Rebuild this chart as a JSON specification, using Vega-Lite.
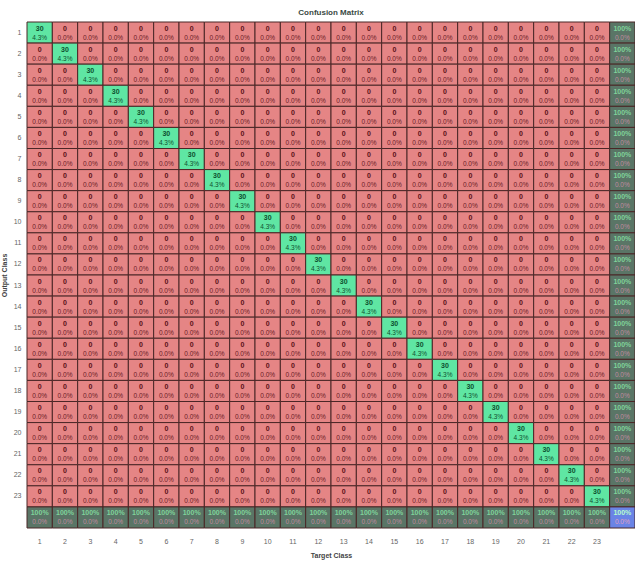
{
"$schema":"https://vega.github.io/schema/vega-lite/v6.json",
"width":608,"height":506,
"autosize":{"type":"none"},
"padding":{"left":27,"top":22,"right":0,"bottom":34},
"background":"white",
"config":{"view":{"stroke":null},"font":"Liberation Sans"},
"title":{"text":"Confusion Matrix","fontSize":8,"fontWeight":"bold","color":"#3a4a44","offset":5},
"data":{"values":[
{"o":1,"t":1,"n":"30","p":"4.3%","k":"d"},{"o":1,"t":2,"n":"0","p":"0.0%","k":"r"},{"o":1,"t":3,"n":"0","p":"0.0%","k":"r"},{"o":1,"t":4,"n":"0","p":"0.0%","k":"r"},{"o":1,"t":5,"n":"0","p":"0.0%","k":"r"},{"o":1,"t":6,"n":"0","p":"0.0%","k":"r"},{"o":1,"t":7,"n":"0","p":"0.0%","k":"r"},{"o":1,"t":8,"n":"0","p":"0.0%","k":"r"},{"o":1,"t":9,"n":"0","p":"0.0%","k":"r"},{"o":1,"t":10,"n":"0","p":"0.0%","k":"r"},{"o":1,"t":11,"n":"0","p":"0.0%","k":"r"},{"o":1,"t":12,"n":"0","p":"0.0%","k":"r"},{"o":1,"t":13,"n":"0","p":"0.0%","k":"r"},{"o":1,"t":14,"n":"0","p":"0.0%","k":"r"},{"o":1,"t":15,"n":"0","p":"0.0%","k":"r"},{"o":1,"t":16,"n":"0","p":"0.0%","k":"r"},{"o":1,"t":17,"n":"0","p":"0.0%","k":"r"},{"o":1,"t":18,"n":"0","p":"0.0%","k":"r"},{"o":1,"t":19,"n":"0","p":"0.0%","k":"r"},{"o":1,"t":20,"n":"0","p":"0.0%","k":"r"},{"o":1,"t":21,"n":"0","p":"0.0%","k":"r"},{"o":1,"t":22,"n":"0","p":"0.0%","k":"r"},{"o":1,"t":23,"n":"0","p":"0.0%","k":"r"},{"o":1,"t":24,"n":"100%","p":"0.0%","k":"s"},
{"o":2,"t":1,"n":"0","p":"0.0%","k":"r"},{"o":2,"t":2,"n":"30","p":"4.3%","k":"d"},{"o":2,"t":3,"n":"0","p":"0.0%","k":"r"},{"o":2,"t":4,"n":"0","p":"0.0%","k":"r"},{"o":2,"t":5,"n":"0","p":"0.0%","k":"r"},{"o":2,"t":6,"n":"0","p":"0.0%","k":"r"},{"o":2,"t":7,"n":"0","p":"0.0%","k":"r"},{"o":2,"t":8,"n":"0","p":"0.0%","k":"r"},{"o":2,"t":9,"n":"0","p":"0.0%","k":"r"},{"o":2,"t":10,"n":"0","p":"0.0%","k":"r"},{"o":2,"t":11,"n":"0","p":"0.0%","k":"r"},{"o":2,"t":12,"n":"0","p":"0.0%","k":"r"},{"o":2,"t":13,"n":"0","p":"0.0%","k":"r"},{"o":2,"t":14,"n":"0","p":"0.0%","k":"r"},{"o":2,"t":15,"n":"0","p":"0.0%","k":"r"},{"o":2,"t":16,"n":"0","p":"0.0%","k":"r"},{"o":2,"t":17,"n":"0","p":"0.0%","k":"r"},{"o":2,"t":18,"n":"0","p":"0.0%","k":"r"},{"o":2,"t":19,"n":"0","p":"0.0%","k":"r"},{"o":2,"t":20,"n":"0","p":"0.0%","k":"r"},{"o":2,"t":21,"n":"0","p":"0.0%","k":"r"},{"o":2,"t":22,"n":"0","p":"0.0%","k":"r"},{"o":2,"t":23,"n":"0","p":"0.0%","k":"r"},{"o":2,"t":24,"n":"100%","p":"0.0%","k":"s"},
{"o":3,"t":1,"n":"0","p":"0.0%","k":"r"},{"o":3,"t":2,"n":"0","p":"0.0%","k":"r"},{"o":3,"t":3,"n":"30","p":"4.3%","k":"d"},{"o":3,"t":4,"n":"0","p":"0.0%","k":"r"},{"o":3,"t":5,"n":"0","p":"0.0%","k":"r"},{"o":3,"t":6,"n":"0","p":"0.0%","k":"r"},{"o":3,"t":7,"n":"0","p":"0.0%","k":"r"},{"o":3,"t":8,"n":"0","p":"0.0%","k":"r"},{"o":3,"t":9,"n":"0","p":"0.0%","k":"r"},{"o":3,"t":10,"n":"0","p":"0.0%","k":"r"},{"o":3,"t":11,"n":"0","p":"0.0%","k":"r"},{"o":3,"t":12,"n":"0","p":"0.0%","k":"r"},{"o":3,"t":13,"n":"0","p":"0.0%","k":"r"},{"o":3,"t":14,"n":"0","p":"0.0%","k":"r"},{"o":3,"t":15,"n":"0","p":"0.0%","k":"r"},{"o":3,"t":16,"n":"0","p":"0.0%","k":"r"},{"o":3,"t":17,"n":"0","p":"0.0%","k":"r"},{"o":3,"t":18,"n":"0","p":"0.0%","k":"r"},{"o":3,"t":19,"n":"0","p":"0.0%","k":"r"},{"o":3,"t":20,"n":"0","p":"0.0%","k":"r"},{"o":3,"t":21,"n":"0","p":"0.0%","k":"r"},{"o":3,"t":22,"n":"0","p":"0.0%","k":"r"},{"o":3,"t":23,"n":"0","p":"0.0%","k":"r"},{"o":3,"t":24,"n":"100%","p":"0.0%","k":"s"},
{"o":4,"t":1,"n":"0","p":"0.0%","k":"r"},{"o":4,"t":2,"n":"0","p":"0.0%","k":"r"},{"o":4,"t":3,"n":"0","p":"0.0%","k":"r"},{"o":4,"t":4,"n":"30","p":"4.3%","k":"d"},{"o":4,"t":5,"n":"0","p":"0.0%","k":"r"},{"o":4,"t":6,"n":"0","p":"0.0%","k":"r"},{"o":4,"t":7,"n":"0","p":"0.0%","k":"r"},{"o":4,"t":8,"n":"0","p":"0.0%","k":"r"},{"o":4,"t":9,"n":"0","p":"0.0%","k":"r"},{"o":4,"t":10,"n":"0","p":"0.0%","k":"r"},{"o":4,"t":11,"n":"0","p":"0.0%","k":"r"},{"o":4,"t":12,"n":"0","p":"0.0%","k":"r"},{"o":4,"t":13,"n":"0","p":"0.0%","k":"r"},{"o":4,"t":14,"n":"0","p":"0.0%","k":"r"},{"o":4,"t":15,"n":"0","p":"0.0%","k":"r"},{"o":4,"t":16,"n":"0","p":"0.0%","k":"r"},{"o":4,"t":17,"n":"0","p":"0.0%","k":"r"},{"o":4,"t":18,"n":"0","p":"0.0%","k":"r"},{"o":4,"t":19,"n":"0","p":"0.0%","k":"r"},{"o":4,"t":20,"n":"0","p":"0.0%","k":"r"},{"o":4,"t":21,"n":"0","p":"0.0%","k":"r"},{"o":4,"t":22,"n":"0","p":"0.0%","k":"r"},{"o":4,"t":23,"n":"0","p":"0.0%","k":"r"},{"o":4,"t":24,"n":"100%","p":"0.0%","k":"s"},
{"o":5,"t":1,"n":"0","p":"0.0%","k":"r"},{"o":5,"t":2,"n":"0","p":"0.0%","k":"r"},{"o":5,"t":3,"n":"0","p":"0.0%","k":"r"},{"o":5,"t":4,"n":"0","p":"0.0%","k":"r"},{"o":5,"t":5,"n":"30","p":"4.3%","k":"d"},{"o":5,"t":6,"n":"0","p":"0.0%","k":"r"},{"o":5,"t":7,"n":"0","p":"0.0%","k":"r"},{"o":5,"t":8,"n":"0","p":"0.0%","k":"r"},{"o":5,"t":9,"n":"0","p":"0.0%","k":"r"},{"o":5,"t":10,"n":"0","p":"0.0%","k":"r"},{"o":5,"t":11,"n":"0","p":"0.0%","k":"r"},{"o":5,"t":12,"n":"0","p":"0.0%","k":"r"},{"o":5,"t":13,"n":"0","p":"0.0%","k":"r"},{"o":5,"t":14,"n":"0","p":"0.0%","k":"r"},{"o":5,"t":15,"n":"0","p":"0.0%","k":"r"},{"o":5,"t":16,"n":"0","p":"0.0%","k":"r"},{"o":5,"t":17,"n":"0","p":"0.0%","k":"r"},{"o":5,"t":18,"n":"0","p":"0.0%","k":"r"},{"o":5,"t":19,"n":"0","p":"0.0%","k":"r"},{"o":5,"t":20,"n":"0","p":"0.0%","k":"r"},{"o":5,"t":21,"n":"0","p":"0.0%","k":"r"},{"o":5,"t":22,"n":"0","p":"0.0%","k":"r"},{"o":5,"t":23,"n":"0","p":"0.0%","k":"r"},{"o":5,"t":24,"n":"100%","p":"0.0%","k":"s"},
{"o":6,"t":1,"n":"0","p":"0.0%","k":"r"},{"o":6,"t":2,"n":"0","p":"0.0%","k":"r"},{"o":6,"t":3,"n":"0","p":"0.0%","k":"r"},{"o":6,"t":4,"n":"0","p":"0.0%","k":"r"},{"o":6,"t":5,"n":"0","p":"0.0%","k":"r"},{"o":6,"t":6,"n":"30","p":"4.3%","k":"d"},{"o":6,"t":7,"n":"0","p":"0.0%","k":"r"},{"o":6,"t":8,"n":"0","p":"0.0%","k":"r"},{"o":6,"t":9,"n":"0","p":"0.0%","k":"r"},{"o":6,"t":10,"n":"0","p":"0.0%","k":"r"},{"o":6,"t":11,"n":"0","p":"0.0%","k":"r"},{"o":6,"t":12,"n":"0","p":"0.0%","k":"r"},{"o":6,"t":13,"n":"0","p":"0.0%","k":"r"},{"o":6,"t":14,"n":"0","p":"0.0%","k":"r"},{"o":6,"t":15,"n":"0","p":"0.0%","k":"r"},{"o":6,"t":16,"n":"0","p":"0.0%","k":"r"},{"o":6,"t":17,"n":"0","p":"0.0%","k":"r"},{"o":6,"t":18,"n":"0","p":"0.0%","k":"r"},{"o":6,"t":19,"n":"0","p":"0.0%","k":"r"},{"o":6,"t":20,"n":"0","p":"0.0%","k":"r"},{"o":6,"t":21,"n":"0","p":"0.0%","k":"r"},{"o":6,"t":22,"n":"0","p":"0.0%","k":"r"},{"o":6,"t":23,"n":"0","p":"0.0%","k":"r"},{"o":6,"t":24,"n":"100%","p":"0.0%","k":"s"},
{"o":7,"t":1,"n":"0","p":"0.0%","k":"r"},{"o":7,"t":2,"n":"0","p":"0.0%","k":"r"},{"o":7,"t":3,"n":"0","p":"0.0%","k":"r"},{"o":7,"t":4,"n":"0","p":"0.0%","k":"r"},{"o":7,"t":5,"n":"0","p":"0.0%","k":"r"},{"o":7,"t":6,"n":"0","p":"0.0%","k":"r"},{"o":7,"t":7,"n":"30","p":"4.3%","k":"d"},{"o":7,"t":8,"n":"0","p":"0.0%","k":"r"},{"o":7,"t":9,"n":"0","p":"0.0%","k":"r"},{"o":7,"t":10,"n":"0","p":"0.0%","k":"r"},{"o":7,"t":11,"n":"0","p":"0.0%","k":"r"},{"o":7,"t":12,"n":"0","p":"0.0%","k":"r"},{"o":7,"t":13,"n":"0","p":"0.0%","k":"r"},{"o":7,"t":14,"n":"0","p":"0.0%","k":"r"},{"o":7,"t":15,"n":"0","p":"0.0%","k":"r"},{"o":7,"t":16,"n":"0","p":"0.0%","k":"r"},{"o":7,"t":17,"n":"0","p":"0.0%","k":"r"},{"o":7,"t":18,"n":"0","p":"0.0%","k":"r"},{"o":7,"t":19,"n":"0","p":"0.0%","k":"r"},{"o":7,"t":20,"n":"0","p":"0.0%","k":"r"},{"o":7,"t":21,"n":"0","p":"0.0%","k":"r"},{"o":7,"t":22,"n":"0","p":"0.0%","k":"r"},{"o":7,"t":23,"n":"0","p":"0.0%","k":"r"},{"o":7,"t":24,"n":"100%","p":"0.0%","k":"s"},
{"o":8,"t":1,"n":"0","p":"0.0%","k":"r"},{"o":8,"t":2,"n":"0","p":"0.0%","k":"r"},{"o":8,"t":3,"n":"0","p":"0.0%","k":"r"},{"o":8,"t":4,"n":"0","p":"0.0%","k":"r"},{"o":8,"t":5,"n":"0","p":"0.0%","k":"r"},{"o":8,"t":6,"n":"0","p":"0.0%","k":"r"},{"o":8,"t":7,"n":"0","p":"0.0%","k":"r"},{"o":8,"t":8,"n":"30","p":"4.3%","k":"d"},{"o":8,"t":9,"n":"0","p":"0.0%","k":"r"},{"o":8,"t":10,"n":"0","p":"0.0%","k":"r"},{"o":8,"t":11,"n":"0","p":"0.0%","k":"r"},{"o":8,"t":12,"n":"0","p":"0.0%","k":"r"},{"o":8,"t":13,"n":"0","p":"0.0%","k":"r"},{"o":8,"t":14,"n":"0","p":"0.0%","k":"r"},{"o":8,"t":15,"n":"0","p":"0.0%","k":"r"},{"o":8,"t":16,"n":"0","p":"0.0%","k":"r"},{"o":8,"t":17,"n":"0","p":"0.0%","k":"r"},{"o":8,"t":18,"n":"0","p":"0.0%","k":"r"},{"o":8,"t":19,"n":"0","p":"0.0%","k":"r"},{"o":8,"t":20,"n":"0","p":"0.0%","k":"r"},{"o":8,"t":21,"n":"0","p":"0.0%","k":"r"},{"o":8,"t":22,"n":"0","p":"0.0%","k":"r"},{"o":8,"t":23,"n":"0","p":"0.0%","k":"r"},{"o":8,"t":24,"n":"100%","p":"0.0%","k":"s"},
{"o":9,"t":1,"n":"0","p":"0.0%","k":"r"},{"o":9,"t":2,"n":"0","p":"0.0%","k":"r"},{"o":9,"t":3,"n":"0","p":"0.0%","k":"r"},{"o":9,"t":4,"n":"0","p":"0.0%","k":"r"},{"o":9,"t":5,"n":"0","p":"0.0%","k":"r"},{"o":9,"t":6,"n":"0","p":"0.0%","k":"r"},{"o":9,"t":7,"n":"0","p":"0.0%","k":"r"},{"o":9,"t":8,"n":"0","p":"0.0%","k":"r"},{"o":9,"t":9,"n":"30","p":"4.3%","k":"d"},{"o":9,"t":10,"n":"0","p":"0.0%","k":"r"},{"o":9,"t":11,"n":"0","p":"0.0%","k":"r"},{"o":9,"t":12,"n":"0","p":"0.0%","k":"r"},{"o":9,"t":13,"n":"0","p":"0.0%","k":"r"},{"o":9,"t":14,"n":"0","p":"0.0%","k":"r"},{"o":9,"t":15,"n":"0","p":"0.0%","k":"r"},{"o":9,"t":16,"n":"0","p":"0.0%","k":"r"},{"o":9,"t":17,"n":"0","p":"0.0%","k":"r"},{"o":9,"t":18,"n":"0","p":"0.0%","k":"r"},{"o":9,"t":19,"n":"0","p":"0.0%","k":"r"},{"o":9,"t":20,"n":"0","p":"0.0%","k":"r"},{"o":9,"t":21,"n":"0","p":"0.0%","k":"r"},{"o":9,"t":22,"n":"0","p":"0.0%","k":"r"},{"o":9,"t":23,"n":"0","p":"0.0%","k":"r"},{"o":9,"t":24,"n":"100%","p":"0.0%","k":"s"},
{"o":10,"t":1,"n":"0","p":"0.0%","k":"r"},{"o":10,"t":2,"n":"0","p":"0.0%","k":"r"},{"o":10,"t":3,"n":"0","p":"0.0%","k":"r"},{"o":10,"t":4,"n":"0","p":"0.0%","k":"r"},{"o":10,"t":5,"n":"0","p":"0.0%","k":"r"},{"o":10,"t":6,"n":"0","p":"0.0%","k":"r"},{"o":10,"t":7,"n":"0","p":"0.0%","k":"r"},{"o":10,"t":8,"n":"0","p":"0.0%","k":"r"},{"o":10,"t":9,"n":"0","p":"0.0%","k":"r"},{"o":10,"t":10,"n":"30","p":"4.3%","k":"d"},{"o":10,"t":11,"n":"0","p":"0.0%","k":"r"},{"o":10,"t":12,"n":"0","p":"0.0%","k":"r"},{"o":10,"t":13,"n":"0","p":"0.0%","k":"r"},{"o":10,"t":14,"n":"0","p":"0.0%","k":"r"},{"o":10,"t":15,"n":"0","p":"0.0%","k":"r"},{"o":10,"t":16,"n":"0","p":"0.0%","k":"r"},{"o":10,"t":17,"n":"0","p":"0.0%","k":"r"},{"o":10,"t":18,"n":"0","p":"0.0%","k":"r"},{"o":10,"t":19,"n":"0","p":"0.0%","k":"r"},{"o":10,"t":20,"n":"0","p":"0.0%","k":"r"},{"o":10,"t":21,"n":"0","p":"0.0%","k":"r"},{"o":10,"t":22,"n":"0","p":"0.0%","k":"r"},{"o":10,"t":23,"n":"0","p":"0.0%","k":"r"},{"o":10,"t":24,"n":"100%","p":"0.0%","k":"s"},
{"o":11,"t":1,"n":"0","p":"0.0%","k":"r"},{"o":11,"t":2,"n":"0","p":"0.0%","k":"r"},{"o":11,"t":3,"n":"0","p":"0.0%","k":"r"},{"o":11,"t":4,"n":"0","p":"0.0%","k":"r"},{"o":11,"t":5,"n":"0","p":"0.0%","k":"r"},{"o":11,"t":6,"n":"0","p":"0.0%","k":"r"},{"o":11,"t":7,"n":"0","p":"0.0%","k":"r"},{"o":11,"t":8,"n":"0","p":"0.0%","k":"r"},{"o":11,"t":9,"n":"0","p":"0.0%","k":"r"},{"o":11,"t":10,"n":"0","p":"0.0%","k":"r"},{"o":11,"t":11,"n":"30","p":"4.3%","k":"d"},{"o":11,"t":12,"n":"0","p":"0.0%","k":"r"},{"o":11,"t":13,"n":"0","p":"0.0%","k":"r"},{"o":11,"t":14,"n":"0","p":"0.0%","k":"r"},{"o":11,"t":15,"n":"0","p":"0.0%","k":"r"},{"o":11,"t":16,"n":"0","p":"0.0%","k":"r"},{"o":11,"t":17,"n":"0","p":"0.0%","k":"r"},{"o":11,"t":18,"n":"0","p":"0.0%","k":"r"},{"o":11,"t":19,"n":"0","p":"0.0%","k":"r"},{"o":11,"t":20,"n":"0","p":"0.0%","k":"r"},{"o":11,"t":21,"n":"0","p":"0.0%","k":"r"},{"o":11,"t":22,"n":"0","p":"0.0%","k":"r"},{"o":11,"t":23,"n":"0","p":"0.0%","k":"r"},{"o":11,"t":24,"n":"100%","p":"0.0%","k":"s"},
{"o":12,"t":1,"n":"0","p":"0.0%","k":"r"},{"o":12,"t":2,"n":"0","p":"0.0%","k":"r"},{"o":12,"t":3,"n":"0","p":"0.0%","k":"r"},{"o":12,"t":4,"n":"0","p":"0.0%","k":"r"},{"o":12,"t":5,"n":"0","p":"0.0%","k":"r"},{"o":12,"t":6,"n":"0","p":"0.0%","k":"r"},{"o":12,"t":7,"n":"0","p":"0.0%","k":"r"},{"o":12,"t":8,"n":"0","p":"0.0%","k":"r"},{"o":12,"t":9,"n":"0","p":"0.0%","k":"r"},{"o":12,"t":10,"n":"0","p":"0.0%","k":"r"},{"o":12,"t":11,"n":"0","p":"0.0%","k":"r"},{"o":12,"t":12,"n":"30","p":"4.3%","k":"d"},{"o":12,"t":13,"n":"0","p":"0.0%","k":"r"},{"o":12,"t":14,"n":"0","p":"0.0%","k":"r"},{"o":12,"t":15,"n":"0","p":"0.0%","k":"r"},{"o":12,"t":16,"n":"0","p":"0.0%","k":"r"},{"o":12,"t":17,"n":"0","p":"0.0%","k":"r"},{"o":12,"t":18,"n":"0","p":"0.0%","k":"r"},{"o":12,"t":19,"n":"0","p":"0.0%","k":"r"},{"o":12,"t":20,"n":"0","p":"0.0%","k":"r"},{"o":12,"t":21,"n":"0","p":"0.0%","k":"r"},{"o":12,"t":22,"n":"0","p":"0.0%","k":"r"},{"o":12,"t":23,"n":"0","p":"0.0%","k":"r"},{"o":12,"t":24,"n":"100%","p":"0.0%","k":"s"},
{"o":13,"t":1,"n":"0","p":"0.0%","k":"r"},{"o":13,"t":2,"n":"0","p":"0.0%","k":"r"},{"o":13,"t":3,"n":"0","p":"0.0%","k":"r"},{"o":13,"t":4,"n":"0","p":"0.0%","k":"r"},{"o":13,"t":5,"n":"0","p":"0.0%","k":"r"},{"o":13,"t":6,"n":"0","p":"0.0%","k":"r"},{"o":13,"t":7,"n":"0","p":"0.0%","k":"r"},{"o":13,"t":8,"n":"0","p":"0.0%","k":"r"},{"o":13,"t":9,"n":"0","p":"0.0%","k":"r"},{"o":13,"t":10,"n":"0","p":"0.0%","k":"r"},{"o":13,"t":11,"n":"0","p":"0.0%","k":"r"},{"o":13,"t":12,"n":"0","p":"0.0%","k":"r"},{"o":13,"t":13,"n":"30","p":"4.3%","k":"d"},{"o":13,"t":14,"n":"0","p":"0.0%","k":"r"},{"o":13,"t":15,"n":"0","p":"0.0%","k":"r"},{"o":13,"t":16,"n":"0","p":"0.0%","k":"r"},{"o":13,"t":17,"n":"0","p":"0.0%","k":"r"},{"o":13,"t":18,"n":"0","p":"0.0%","k":"r"},{"o":13,"t":19,"n":"0","p":"0.0%","k":"r"},{"o":13,"t":20,"n":"0","p":"0.0%","k":"r"},{"o":13,"t":21,"n":"0","p":"0.0%","k":"r"},{"o":13,"t":22,"n":"0","p":"0.0%","k":"r"},{"o":13,"t":23,"n":"0","p":"0.0%","k":"r"},{"o":13,"t":24,"n":"100%","p":"0.0%","k":"s"},
{"o":14,"t":1,"n":"0","p":"0.0%","k":"r"},{"o":14,"t":2,"n":"0","p":"0.0%","k":"r"},{"o":14,"t":3,"n":"0","p":"0.0%","k":"r"},{"o":14,"t":4,"n":"0","p":"0.0%","k":"r"},{"o":14,"t":5,"n":"0","p":"0.0%","k":"r"},{"o":14,"t":6,"n":"0","p":"0.0%","k":"r"},{"o":14,"t":7,"n":"0","p":"0.0%","k":"r"},{"o":14,"t":8,"n":"0","p":"0.0%","k":"r"},{"o":14,"t":9,"n":"0","p":"0.0%","k":"r"},{"o":14,"t":10,"n":"0","p":"0.0%","k":"r"},{"o":14,"t":11,"n":"0","p":"0.0%","k":"r"},{"o":14,"t":12,"n":"0","p":"0.0%","k":"r"},{"o":14,"t":13,"n":"0","p":"0.0%","k":"r"},{"o":14,"t":14,"n":"30","p":"4.3%","k":"d"},{"o":14,"t":15,"n":"0","p":"0.0%","k":"r"},{"o":14,"t":16,"n":"0","p":"0.0%","k":"r"},{"o":14,"t":17,"n":"0","p":"0.0%","k":"r"},{"o":14,"t":18,"n":"0","p":"0.0%","k":"r"},{"o":14,"t":19,"n":"0","p":"0.0%","k":"r"},{"o":14,"t":20,"n":"0","p":"0.0%","k":"r"},{"o":14,"t":21,"n":"0","p":"0.0%","k":"r"},{"o":14,"t":22,"n":"0","p":"0.0%","k":"r"},{"o":14,"t":23,"n":"0","p":"0.0%","k":"r"},{"o":14,"t":24,"n":"100%","p":"0.0%","k":"s"},
{"o":15,"t":1,"n":"0","p":"0.0%","k":"r"},{"o":15,"t":2,"n":"0","p":"0.0%","k":"r"},{"o":15,"t":3,"n":"0","p":"0.0%","k":"r"},{"o":15,"t":4,"n":"0","p":"0.0%","k":"r"},{"o":15,"t":5,"n":"0","p":"0.0%","k":"r"},{"o":15,"t":6,"n":"0","p":"0.0%","k":"r"},{"o":15,"t":7,"n":"0","p":"0.0%","k":"r"},{"o":15,"t":8,"n":"0","p":"0.0%","k":"r"},{"o":15,"t":9,"n":"0","p":"0.0%","k":"r"},{"o":15,"t":10,"n":"0","p":"0.0%","k":"r"},{"o":15,"t":11,"n":"0","p":"0.0%","k":"r"},{"o":15,"t":12,"n":"0","p":"0.0%","k":"r"},{"o":15,"t":13,"n":"0","p":"0.0%","k":"r"},{"o":15,"t":14,"n":"0","p":"0.0%","k":"r"},{"o":15,"t":15,"n":"30","p":"4.3%","k":"d"},{"o":15,"t":16,"n":"0","p":"0.0%","k":"r"},{"o":15,"t":17,"n":"0","p":"0.0%","k":"r"},{"o":15,"t":18,"n":"0","p":"0.0%","k":"r"},{"o":15,"t":19,"n":"0","p":"0.0%","k":"r"},{"o":15,"t":20,"n":"0","p":"0.0%","k":"r"},{"o":15,"t":21,"n":"0","p":"0.0%","k":"r"},{"o":15,"t":22,"n":"0","p":"0.0%","k":"r"},{"o":15,"t":23,"n":"0","p":"0.0%","k":"r"},{"o":15,"t":24,"n":"100%","p":"0.0%","k":"s"},
{"o":16,"t":1,"n":"0","p":"0.0%","k":"r"},{"o":16,"t":2,"n":"0","p":"0.0%","k":"r"},{"o":16,"t":3,"n":"0","p":"0.0%","k":"r"},{"o":16,"t":4,"n":"0","p":"0.0%","k":"r"},{"o":16,"t":5,"n":"0","p":"0.0%","k":"r"},{"o":16,"t":6,"n":"0","p":"0.0%","k":"r"},{"o":16,"t":7,"n":"0","p":"0.0%","k":"r"},{"o":16,"t":8,"n":"0","p":"0.0%","k":"r"},{"o":16,"t":9,"n":"0","p":"0.0%","k":"r"},{"o":16,"t":10,"n":"0","p":"0.0%","k":"r"},{"o":16,"t":11,"n":"0","p":"0.0%","k":"r"},{"o":16,"t":12,"n":"0","p":"0.0%","k":"r"},{"o":16,"t":13,"n":"0","p":"0.0%","k":"r"},{"o":16,"t":14,"n":"0","p":"0.0%","k":"r"},{"o":16,"t":15,"n":"0","p":"0.0%","k":"r"},{"o":16,"t":16,"n":"30","p":"4.3%","k":"d"},{"o":16,"t":17,"n":"0","p":"0.0%","k":"r"},{"o":16,"t":18,"n":"0","p":"0.0%","k":"r"},{"o":16,"t":19,"n":"0","p":"0.0%","k":"r"},{"o":16,"t":20,"n":"0","p":"0.0%","k":"r"},{"o":16,"t":21,"n":"0","p":"0.0%","k":"r"},{"o":16,"t":22,"n":"0","p":"0.0%","k":"r"},{"o":16,"t":23,"n":"0","p":"0.0%","k":"r"},{"o":16,"t":24,"n":"100%","p":"0.0%","k":"s"},
{"o":17,"t":1,"n":"0","p":"0.0%","k":"r"},{"o":17,"t":2,"n":"0","p":"0.0%","k":"r"},{"o":17,"t":3,"n":"0","p":"0.0%","k":"r"},{"o":17,"t":4,"n":"0","p":"0.0%","k":"r"},{"o":17,"t":5,"n":"0","p":"0.0%","k":"r"},{"o":17,"t":6,"n":"0","p":"0.0%","k":"r"},{"o":17,"t":7,"n":"0","p":"0.0%","k":"r"},{"o":17,"t":8,"n":"0","p":"0.0%","k":"r"},{"o":17,"t":9,"n":"0","p":"0.0%","k":"r"},{"o":17,"t":10,"n":"0","p":"0.0%","k":"r"},{"o":17,"t":11,"n":"0","p":"0.0%","k":"r"},{"o":17,"t":12,"n":"0","p":"0.0%","k":"r"},{"o":17,"t":13,"n":"0","p":"0.0%","k":"r"},{"o":17,"t":14,"n":"0","p":"0.0%","k":"r"},{"o":17,"t":15,"n":"0","p":"0.0%","k":"r"},{"o":17,"t":16,"n":"0","p":"0.0%","k":"r"},{"o":17,"t":17,"n":"30","p":"4.3%","k":"d"},{"o":17,"t":18,"n":"0","p":"0.0%","k":"r"},{"o":17,"t":19,"n":"0","p":"0.0%","k":"r"},{"o":17,"t":20,"n":"0","p":"0.0%","k":"r"},{"o":17,"t":21,"n":"0","p":"0.0%","k":"r"},{"o":17,"t":22,"n":"0","p":"0.0%","k":"r"},{"o":17,"t":23,"n":"0","p":"0.0%","k":"r"},{"o":17,"t":24,"n":"100%","p":"0.0%","k":"s"},
{"o":18,"t":1,"n":"0","p":"0.0%","k":"r"},{"o":18,"t":2,"n":"0","p":"0.0%","k":"r"},{"o":18,"t":3,"n":"0","p":"0.0%","k":"r"},{"o":18,"t":4,"n":"0","p":"0.0%","k":"r"},{"o":18,"t":5,"n":"0","p":"0.0%","k":"r"},{"o":18,"t":6,"n":"0","p":"0.0%","k":"r"},{"o":18,"t":7,"n":"0","p":"0.0%","k":"r"},{"o":18,"t":8,"n":"0","p":"0.0%","k":"r"},{"o":18,"t":9,"n":"0","p":"0.0%","k":"r"},{"o":18,"t":10,"n":"0","p":"0.0%","k":"r"},{"o":18,"t":11,"n":"0","p":"0.0%","k":"r"},{"o":18,"t":12,"n":"0","p":"0.0%","k":"r"},{"o":18,"t":13,"n":"0","p":"0.0%","k":"r"},{"o":18,"t":14,"n":"0","p":"0.0%","k":"r"},{"o":18,"t":15,"n":"0","p":"0.0%","k":"r"},{"o":18,"t":16,"n":"0","p":"0.0%","k":"r"},{"o":18,"t":17,"n":"0","p":"0.0%","k":"r"},{"o":18,"t":18,"n":"30","p":"4.3%","k":"d"},{"o":18,"t":19,"n":"0","p":"0.0%","k":"r"},{"o":18,"t":20,"n":"0","p":"0.0%","k":"r"},{"o":18,"t":21,"n":"0","p":"0.0%","k":"r"},{"o":18,"t":22,"n":"0","p":"0.0%","k":"r"},{"o":18,"t":23,"n":"0","p":"0.0%","k":"r"},{"o":18,"t":24,"n":"100%","p":"0.0%","k":"s"},
{"o":19,"t":1,"n":"0","p":"0.0%","k":"r"},{"o":19,"t":2,"n":"0","p":"0.0%","k":"r"},{"o":19,"t":3,"n":"0","p":"0.0%","k":"r"},{"o":19,"t":4,"n":"0","p":"0.0%","k":"r"},{"o":19,"t":5,"n":"0","p":"0.0%","k":"r"},{"o":19,"t":6,"n":"0","p":"0.0%","k":"r"},{"o":19,"t":7,"n":"0","p":"0.0%","k":"r"},{"o":19,"t":8,"n":"0","p":"0.0%","k":"r"},{"o":19,"t":9,"n":"0","p":"0.0%","k":"r"},{"o":19,"t":10,"n":"0","p":"0.0%","k":"r"},{"o":19,"t":11,"n":"0","p":"0.0%","k":"r"},{"o":19,"t":12,"n":"0","p":"0.0%","k":"r"},{"o":19,"t":13,"n":"0","p":"0.0%","k":"r"},{"o":19,"t":14,"n":"0","p":"0.0%","k":"r"},{"o":19,"t":15,"n":"0","p":"0.0%","k":"r"},{"o":19,"t":16,"n":"0","p":"0.0%","k":"r"},{"o":19,"t":17,"n":"0","p":"0.0%","k":"r"},{"o":19,"t":18,"n":"0","p":"0.0%","k":"r"},{"o":19,"t":19,"n":"30","p":"4.3%","k":"d"},{"o":19,"t":20,"n":"0","p":"0.0%","k":"r"},{"o":19,"t":21,"n":"0","p":"0.0%","k":"r"},{"o":19,"t":22,"n":"0","p":"0.0%","k":"r"},{"o":19,"t":23,"n":"0","p":"0.0%","k":"r"},{"o":19,"t":24,"n":"100%","p":"0.0%","k":"s"},
{"o":20,"t":1,"n":"0","p":"0.0%","k":"r"},{"o":20,"t":2,"n":"0","p":"0.0%","k":"r"},{"o":20,"t":3,"n":"0","p":"0.0%","k":"r"},{"o":20,"t":4,"n":"0","p":"0.0%","k":"r"},{"o":20,"t":5,"n":"0","p":"0.0%","k":"r"},{"o":20,"t":6,"n":"0","p":"0.0%","k":"r"},{"o":20,"t":7,"n":"0","p":"0.0%","k":"r"},{"o":20,"t":8,"n":"0","p":"0.0%","k":"r"},{"o":20,"t":9,"n":"0","p":"0.0%","k":"r"},{"o":20,"t":10,"n":"0","p":"0.0%","k":"r"},{"o":20,"t":11,"n":"0","p":"0.0%","k":"r"},{"o":20,"t":12,"n":"0","p":"0.0%","k":"r"},{"o":20,"t":13,"n":"0","p":"0.0%","k":"r"},{"o":20,"t":14,"n":"0","p":"0.0%","k":"r"},{"o":20,"t":15,"n":"0","p":"0.0%","k":"r"},{"o":20,"t":16,"n":"0","p":"0.0%","k":"r"},{"o":20,"t":17,"n":"0","p":"0.0%","k":"r"},{"o":20,"t":18,"n":"0","p":"0.0%","k":"r"},{"o":20,"t":19,"n":"0","p":"0.0%","k":"r"},{"o":20,"t":20,"n":"30","p":"4.3%","k":"d"},{"o":20,"t":21,"n":"0","p":"0.0%","k":"r"},{"o":20,"t":22,"n":"0","p":"0.0%","k":"r"},{"o":20,"t":23,"n":"0","p":"0.0%","k":"r"},{"o":20,"t":24,"n":"100%","p":"0.0%","k":"s"},
{"o":21,"t":1,"n":"0","p":"0.0%","k":"r"},{"o":21,"t":2,"n":"0","p":"0.0%","k":"r"},{"o":21,"t":3,"n":"0","p":"0.0%","k":"r"},{"o":21,"t":4,"n":"0","p":"0.0%","k":"r"},{"o":21,"t":5,"n":"0","p":"0.0%","k":"r"},{"o":21,"t":6,"n":"0","p":"0.0%","k":"r"},{"o":21,"t":7,"n":"0","p":"0.0%","k":"r"},{"o":21,"t":8,"n":"0","p":"0.0%","k":"r"},{"o":21,"t":9,"n":"0","p":"0.0%","k":"r"},{"o":21,"t":10,"n":"0","p":"0.0%","k":"r"},{"o":21,"t":11,"n":"0","p":"0.0%","k":"r"},{"o":21,"t":12,"n":"0","p":"0.0%","k":"r"},{"o":21,"t":13,"n":"0","p":"0.0%","k":"r"},{"o":21,"t":14,"n":"0","p":"0.0%","k":"r"},{"o":21,"t":15,"n":"0","p":"0.0%","k":"r"},{"o":21,"t":16,"n":"0","p":"0.0%","k":"r"},{"o":21,"t":17,"n":"0","p":"0.0%","k":"r"},{"o":21,"t":18,"n":"0","p":"0.0%","k":"r"},{"o":21,"t":19,"n":"0","p":"0.0%","k":"r"},{"o":21,"t":20,"n":"0","p":"0.0%","k":"r"},{"o":21,"t":21,"n":"30","p":"4.3%","k":"d"},{"o":21,"t":22,"n":"0","p":"0.0%","k":"r"},{"o":21,"t":23,"n":"0","p":"0.0%","k":"r"},{"o":21,"t":24,"n":"100%","p":"0.0%","k":"s"},
{"o":22,"t":1,"n":"0","p":"0.0%","k":"r"},{"o":22,"t":2,"n":"0","p":"0.0%","k":"r"},{"o":22,"t":3,"n":"0","p":"0.0%","k":"r"},{"o":22,"t":4,"n":"0","p":"0.0%","k":"r"},{"o":22,"t":5,"n":"0","p":"0.0%","k":"r"},{"o":22,"t":6,"n":"0","p":"0.0%","k":"r"},{"o":22,"t":7,"n":"0","p":"0.0%","k":"r"},{"o":22,"t":8,"n":"0","p":"0.0%","k":"r"},{"o":22,"t":9,"n":"0","p":"0.0%","k":"r"},{"o":22,"t":10,"n":"0","p":"0.0%","k":"r"},{"o":22,"t":11,"n":"0","p":"0.0%","k":"r"},{"o":22,"t":12,"n":"0","p":"0.0%","k":"r"},{"o":22,"t":13,"n":"0","p":"0.0%","k":"r"},{"o":22,"t":14,"n":"0","p":"0.0%","k":"r"},{"o":22,"t":15,"n":"0","p":"0.0%","k":"r"},{"o":22,"t":16,"n":"0","p":"0.0%","k":"r"},{"o":22,"t":17,"n":"0","p":"0.0%","k":"r"},{"o":22,"t":18,"n":"0","p":"0.0%","k":"r"},{"o":22,"t":19,"n":"0","p":"0.0%","k":"r"},{"o":22,"t":20,"n":"0","p":"0.0%","k":"r"},{"o":22,"t":21,"n":"0","p":"0.0%","k":"r"},{"o":22,"t":22,"n":"30","p":"4.3%","k":"d"},{"o":22,"t":23,"n":"0","p":"0.0%","k":"r"},{"o":22,"t":24,"n":"100%","p":"0.0%","k":"s"},
{"o":23,"t":1,"n":"0","p":"0.0%","k":"r"},{"o":23,"t":2,"n":"0","p":"0.0%","k":"r"},{"o":23,"t":3,"n":"0","p":"0.0%","k":"r"},{"o":23,"t":4,"n":"0","p":"0.0%","k":"r"},{"o":23,"t":5,"n":"0","p":"0.0%","k":"r"},{"o":23,"t":6,"n":"0","p":"0.0%","k":"r"},{"o":23,"t":7,"n":"0","p":"0.0%","k":"r"},{"o":23,"t":8,"n":"0","p":"0.0%","k":"r"},{"o":23,"t":9,"n":"0","p":"0.0%","k":"r"},{"o":23,"t":10,"n":"0","p":"0.0%","k":"r"},{"o":23,"t":11,"n":"0","p":"0.0%","k":"r"},{"o":23,"t":12,"n":"0","p":"0.0%","k":"r"},{"o":23,"t":13,"n":"0","p":"0.0%","k":"r"},{"o":23,"t":14,"n":"0","p":"0.0%","k":"r"},{"o":23,"t":15,"n":"0","p":"0.0%","k":"r"},{"o":23,"t":16,"n":"0","p":"0.0%","k":"r"},{"o":23,"t":17,"n":"0","p":"0.0%","k":"r"},{"o":23,"t":18,"n":"0","p":"0.0%","k":"r"},{"o":23,"t":19,"n":"0","p":"0.0%","k":"r"},{"o":23,"t":20,"n":"0","p":"0.0%","k":"r"},{"o":23,"t":21,"n":"0","p":"0.0%","k":"r"},{"o":23,"t":22,"n":"0","p":"0.0%","k":"r"},{"o":23,"t":23,"n":"30","p":"4.3%","k":"d"},{"o":23,"t":24,"n":"100%","p":"0.0%","k":"s"},
{"o":24,"t":1,"n":"100%","p":"0.0%","k":"s"},{"o":24,"t":2,"n":"100%","p":"0.0%","k":"s"},{"o":24,"t":3,"n":"100%","p":"0.0%","k":"s"},{"o":24,"t":4,"n":"100%","p":"0.0%","k":"s"},{"o":24,"t":5,"n":"100%","p":"0.0%","k":"s"},{"o":24,"t":6,"n":"100%","p":"0.0%","k":"s"},{"o":24,"t":7,"n":"100%","p":"0.0%","k":"s"},{"o":24,"t":8,"n":"100%","p":"0.0%","k":"s"},{"o":24,"t":9,"n":"100%","p":"0.0%","k":"s"},{"o":24,"t":10,"n":"100%","p":"0.0%","k":"s"},{"o":24,"t":11,"n":"100%","p":"0.0%","k":"s"},{"o":24,"t":12,"n":"100%","p":"0.0%","k":"s"},{"o":24,"t":13,"n":"100%","p":"0.0%","k":"s"},{"o":24,"t":14,"n":"100%","p":"0.0%","k":"s"},{"o":24,"t":15,"n":"100%","p":"0.0%","k":"s"},{"o":24,"t":16,"n":"100%","p":"0.0%","k":"s"},{"o":24,"t":17,"n":"100%","p":"0.0%","k":"s"},{"o":24,"t":18,"n":"100%","p":"0.0%","k":"s"},{"o":24,"t":19,"n":"100%","p":"0.0%","k":"s"},{"o":24,"t":20,"n":"100%","p":"0.0%","k":"s"},{"o":24,"t":21,"n":"100%","p":"0.0%","k":"s"},{"o":24,"t":22,"n":"100%","p":"0.0%","k":"s"},{"o":24,"t":23,"n":"100%","p":"0.0%","k":"s"},{"o":24,"t":24,"n":"100%","p":"0.0%","k":"c"}
]},
"encoding":{
"x":{"field":"t","type":"ordinal","sort":"ascending","scale":{"paddingInner":0,"paddingOuter":0},"axis":{"title":"Target Class","labelExpr":"datum.value==24?'':datum.label","labelAngle":0,"ticks":false,"domain":false,"labelFontSize":7,"labelColor":"#666","labelPadding":9,"titleFontSize":7,"titleFontWeight":"bold","titleColor":"#444","titlePadding":7}},
"y":{"field":"o","type":"ordinal","sort":"ascending","scale":{"paddingInner":0,"paddingOuter":0},"axis":{"title":"Output Class","labelExpr":"datum.value==24?'':datum.label","ticks":false,"domain":false,"labelFontSize":7,"labelColor":"#666","labelPadding":6,"titleFontSize":7,"titleFontWeight":"bold","titleColor":"#444","titlePadding":6}}
},
"resolve":{"scale":{"color":"independent"}},
"layer":[
{"mark":{"type":"rect","stroke":"#4a2626","strokeWidth":1},"encoding":{"color":{"field":"k","type":"nominal","scale":{"domain":["r","d","s","c"],"range":["#E58585","#5FE6A3","#5A7566","#6A84E6"]},"legend":null}}},
{"mark":{"type":"text","dy":-4,"fontSize":7,"fontWeight":"bold"},"encoding":{"text":{"field":"n"},"color":{"field":"k","type":"nominal","scale":{"domain":["r","d","s","c"],"range":["#5a1018","#0d4f2e","#7fd39a","#b8ffcc"]},"legend":null}}},
{"mark":{"type":"text","dy":5,"fontSize":6.5},"encoding":{"text":{"field":"p"},"color":{"field":"k","type":"nominal","scale":{"domain":["r","d","s","c"],"range":["#6a2026","#0f5030","#c08aa0","#e0a0c0"]},"legend":null}}}
]
}
